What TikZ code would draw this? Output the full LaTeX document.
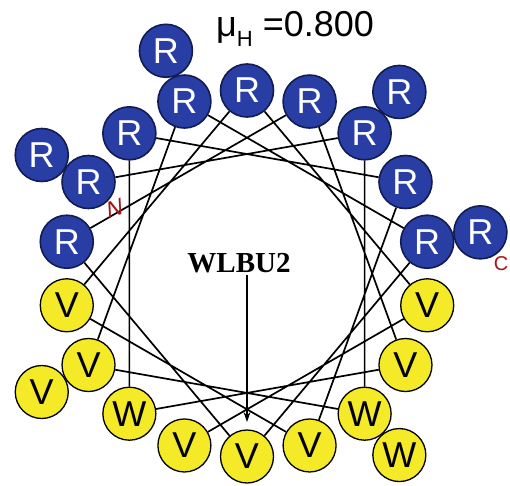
\documentclass[tikz,border=0pt]{standalone}
\usepackage{fontspec}
\setmainfont{Liberation Sans}
\newfontfamily\namefont{Liberation Serif}
\usetikzlibrary{arrows.meta}

\definecolor{resblue}{RGB}{40,62,165}
\definecolor{resnavy}{RGB}{18,28,80}
\definecolor{resyellow}{RGB}{244,234,40}
\definecolor{termred}{RGB}{165,20,20}

\tikzset{
  polar/.style={circle,draw=resnavy,line width=1.6pt,fill=resblue,text=white,
    minimum size=53pt,inner sep=0pt,font=\fontsize{36}{36}\selectfont},
  apolar/.style={circle,draw=black,line width=1.3pt,fill=resyellow,text=black,
    minimum size=53pt,inner sep=0pt,font=\fontsize{36}{36}\selectfont},
  term/.style={text=termred,font=\fontsize{23}{23}\selectfont},
  link/.style={line width=1.7pt}
}

\begin{document}
\begin{tikzpicture}[x=1pt,y=1pt]
    \useasboundingbox (-247,-211.5) rectangle (263,273.5);
    % outer turn (19-23)
    \node [polar] (r19) at (150:237) {R};
    \node [polar] (r20) at (50:237) {R};
    \node [apolar] (r21) at (-50:237) {W};
    \node [apolar] (r22) at (-150:237) {V};
    \node [polar] (r23) at (110:237) {R};
    % Place nodes
    \node [polar] (r1) at (150:183) {R};
    \node [polar] (r2) at (50:183) {R};
    \node [apolar] (r3) at (-50:183) {W};
    \node [apolar] (r4) at (-150:183) {V};
    \node [polar] (r5) at (110:183) {R};
    \node [polar] (r6) at (10:183) {R};
    \node [apolar] (r7) at (-90:183) {V};
    \node [polar] (r8) at (170:183) {R};
    \node [polar] (r9) at (70:183) {R};
    \node [apolar] (r10) at (-30:183) {V};
    \node [apolar] (r11) at (-130:183) {W};
    \node [polar] (r12) at (130:183) {R};
    \node [polar] (r13) at (30:183) {R};
    \node [apolar] (r14) at (-70:183) {V};
    \node [apolar] (r15) at (-170:183) {V};
    \node [polar] (r16) at (90:183) {R};
    \node [apolar] (r17) at (-10:183) {V};
    \node [apolar] (r18) at (-110:183) {V};
    \node [polar] (r24) at (10:237) {R};

    \draw [link] (r1) -- (r2) -- (r3) -- (r4) -- (r5) -- (r6) -- (r7) -- (r8) -- (r9)
      -- (r10) -- (r11) -- (r12) -- (r13) -- (r14) -- (r15) -- (r16) -- (r17) -- (r18);

    \node [term,rotate=20,xslant=0.3] (nterm) at (-132,65) {N};
    \node [term,font=\fontsize{20}{20}\selectfont] (cterm) at (254,10) {C};

    % moment
    \node [font=\namefont\bfseries\fontsize{29}{29}\selectfont] (pep) at (-8,10.5) {WLBU2};
    \coordinate (mstart) at (0,-1.5);
    \coordinate (mend) at (0,-148.5);
    \draw [line width=1.5pt,-{Stealth[length=10pt,width=7pt]}] (mstart) -- (mend);

    \node [font=\fontsize{36}{36}\selectfont,anchor=base] (mu) at (48,236.5)
      {μ\raisebox{-0.25em}{\fontsize{22}{22}\selectfont H} =0.800};
\end{tikzpicture}
\end{document}
